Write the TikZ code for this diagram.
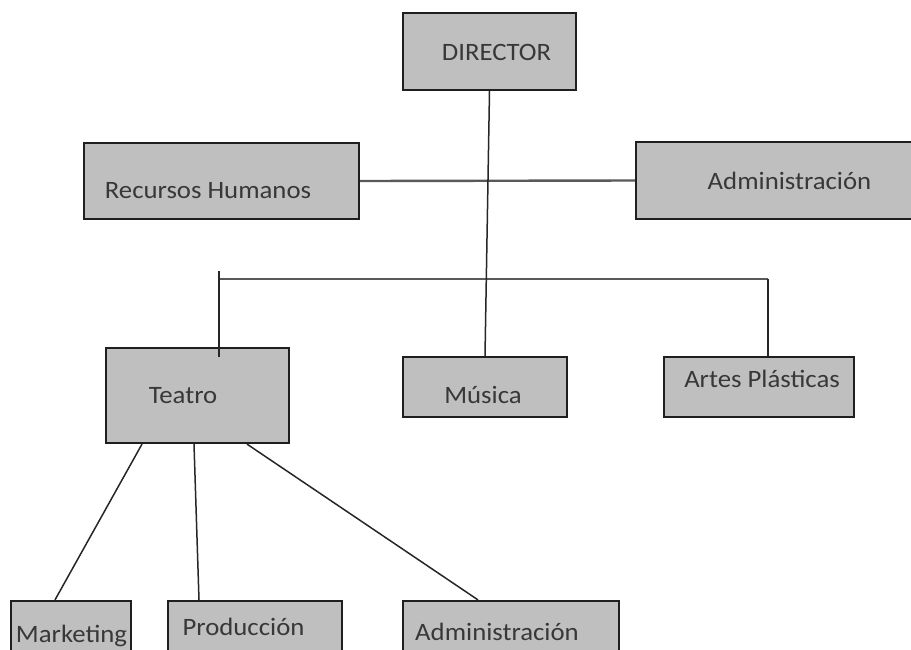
\documentclass[tikz,border=0pt]{standalone}
\usepackage{fontspec}
\setmainfont[FakeStretch=1.07]{Carlito}
\begin{document}
\begin{tikzpicture}[x=1pt,y=-1pt,
  orgbox/.style={draw=black!88,fill=black!25,line width=2.2pt,rectangle,inner sep=0pt},
  lbl/.style={inner sep=0pt,anchor=base,text=black!78,font=\fontsize{25}{30}\selectfont},
  conn/.style={draw=black!85,line width=1.5pt},
  hconn/.style={draw=black!65,line width=2.4pt}]
\useasboundingbox (0,0) rectangle (911,649);
\clip (0,0) rectangle (911,649);
% boxes
\node[orgbox,minimum width=173,minimum height=77] (dir) at (489.5,51.5) {};
\node[orgbox,minimum width=275,minimum height=76] (rh) at (221.5,181) {};
\node[orgbox,minimum width=294,minimum height=77] (adm) at (783,180.5) {};
\node[orgbox,minimum width=183,minimum height=95] (teatro) at (197.5,395.5) {};
\node[orgbox,minimum width=164,minimum height=60] (musica) at (485,387) {};
\node[orgbox,minimum width=190,minimum height=60] (artes) at (759,387) {};
\node[orgbox,minimum width=120,minimum height=69] (mkt) at (71,635.5) {};
\node[orgbox,minimum width=174,minimum height=69] (prod) at (255,635.5) {};
\node[orgbox,minimum width=216,minimum height=69] (adm2) at (511,635.5) {};
% labels
\node[lbl] (tdir) at (496.5,60) {DIRECTOR};
\node[lbl] (trh) at (208,198) {Recursos Humanos};
\node[lbl] (tadm) at (789.5,189) {Administración};
\node[lbl] (tteatro) at (183,403) {Teatro};
\node[lbl] (tmusica) at (483,403) {Música};
\node[lbl] (tartes) at (762,387) {Artes Plásticas};
\node[lbl] (tmkt) at (71.5,642) {Marketing};
\node[lbl] (tprod) at (243.5,635) {Producción};
\node[lbl] (tadm2) at (497,640) {Administración};
% connectors
\coordinate (busL) at (219,279);
\coordinate (busR) at (768,279);
\coordinate (tickTop) at (219,271);
\coordinate (tickEnd) at (219,357);
\draw[hconn] (rh.east) -- (adm.west);
\draw[hconn] (busL) -- (busR);
\draw[conn] (busR) -- (busR |- artes.north);
\draw[conn] (tickTop) -- (tickEnd);
\draw[conn] (dir.south) -- (musica.north);
\draw[conn] ([xshift=-55.5pt]teatro.south) -- ([xshift=-16pt]mkt.north);
\draw[conn] ([xshift=-3.5pt]teatro.south) -- ([xshift=-56pt]prod.north);
\draw[conn] ([xshift=49.5pt]teatro.south) -- ([xshift=-33pt]adm2.north);
\end{tikzpicture}
\end{document}
